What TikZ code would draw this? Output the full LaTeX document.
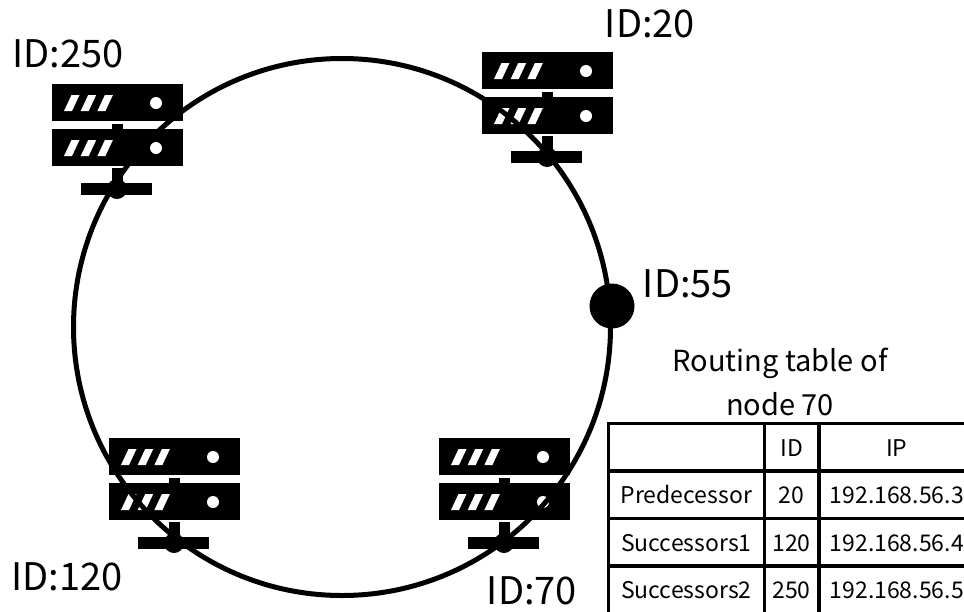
\documentclass[tikz,border=0pt]{standalone}
\usepackage{fontspec}
\setmainfont{Noto Sans CJK JP}
\begin{document}
\begin{tikzpicture}[
  x=1pt,y=-1pt,
  every matrix/.style={ampersand replacement=\&,column sep=-3.6pt,row sep=-3.6pt,inner sep=0pt,outer sep=0pt},
  idlabel/.style={font=\fontsize{38}{38}\selectfont,inner sep=0pt},
  caption/.style={font=\fontsize{29}{29}\selectfont,inner sep=0pt},
  ring/.style={draw,line width=5pt,circle,minimum size=537pt,inner sep=0pt},
  peer/.style={fill,circle,minimum size=45pt,inner sep=0pt},
  cell/.style={draw,line width=3.6pt,minimum height=47.5pt,text height=22pt,text depth=4pt,inner sep=0pt,outer sep=0pt,font=\fontsize{23}{23}\selectfont},
  namecell/.style={cell,minimum width=156pt},
  idcell/.style={cell,minimum width=54.5pt},
  ipcell/.style={cell,minimum width=156pt},
  server/.pic={
    % two racks, each with three slots and a lamp
    \foreach \row in {0,45}{
      \fill (0,\row) rectangle (131,\row+37);
      \foreach \slot in {0,16.7,33.4}
        \fill[white] (12+\slot,\row+27) -- (20+\slot,\row+27) -- (27.5+\slot,\row+11) -- (19.5+\slot,\row+11) -- cycle;
      \fill[white] (104,\row+19) circle (6);
    }
    \fill (59.5,40) rectangle (71,46);
    \fill (60,84) rectangle (71,100);
    \fill (29,99) rectangle (100,111);
    \fill (65,105) circle (10);
  }]

  \useasboundingbox (0,0) rectangle (964,611);

  % Servers first, the ring runs over them
  \foreach \name/\x/\y in {twenty/482/52,twofifty/52/84,onetwenty/109/438,seventy/439/438}
    \pic (\name) at (\x,\y) {server};

  \node[ring] (chord) at (342,327) {};
  \node[peer] (peer55) at (612,306) {};

  % Labels of the nodes
  \node[idlabel] (label20) at (650,24) {ID:20};
  \node[idlabel] (label250) at (68,54) {ID:250};
  \node[idlabel] (label55) at (688,284) {ID:55};
  \node[idlabel] (label120) at (67,577) {ID:120};
  \node[idlabel] (label70) at (532,591) {ID:70};

  \node[caption] (title1) at (780,363) {Routing table of};
  \node[caption] (title2) at (780,404) {node 70};

  % Routing table
  \matrix (routing) [anchor=north west] at (606.5,421.5) {
    \node[namecell] (h0) {}; \& \node[idcell] (h1) {ID}; \& \node[ipcell] (h2) {IP}; \\
    \node[namecell] (p0) {Predecessor}; \& \node[idcell] (p1) {20}; \& \node[ipcell] (p2) {192.168.56.3}; \\
    \node[namecell] (s0) {Successors1}; \& \node[idcell] (s1) {120}; \& \node[ipcell] (s2) {192.168.56.4}; \\
    \node[namecell] (t0) {Successors2}; \& \node[idcell] (t1) {250}; \& \node[ipcell] (t2) {192.168.56.5}; \\
  };
\end{tikzpicture}
\end{document}
